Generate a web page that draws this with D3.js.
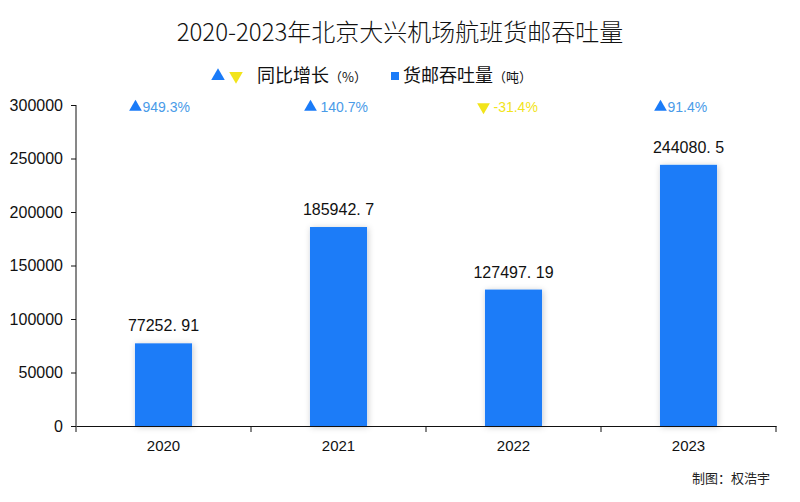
<!DOCTYPE html>
<html>
<head>
<meta charset="utf-8">
<script src="https://cdn.jsdelivr.net/npm/d3@7"></script>
<style>
  body { margin: 0; background: #fff; }
  text { font-family: "Liberation Sans", Arial, sans-serif; }
  .cjk { font-family: "Noto Sans CJK SC", sans-serif; }
</style>
</head>
<body>
<svg id="chart" width="800" height="502"></svg>
<script>
const years = ["2020", "2021", "2022", "2023"]
const cargo = [77252.91, 185942.7, 127497.19, 244080.5]
const growth = [949.3, 140.7, -31.4, 91.4]
const yTicks = [0, 50000, 100000, 150000, 200000, 250000, 300000]

const w = 800
const h = 502
const padLeft = 76
const padRight = 776
const padTop = 105
const padBottom = 426
const blue = "#1a7bf8"
const yellow = "#f2e41a"

const svg = d3.select("#chart")

const defs = svg.append("defs")
const f = defs.append("filter").attr("id", "shadow")
  .attr("x", "-30%").attr("y", "-10%").attr("width", "160%").attr("height", "120%")
f.append("feDropShadow")
  .attr("dx", 1).attr("dy", 1).attr("stdDeviation", 3)
  .attr("flood-color", "#000").attr("flood-opacity", 0.22)

svg.append("text")
  .attr("class", "cjk")
  .attr("x", w / 2).attr("y", 41)
  .attr("text-anchor", "middle")
  .attr("font-size", 24)
  .attr("font-weight", 300)
  .attr("fill", "#111")
  .text("2020-2023年北京大兴机场航班货邮吞吐量")

// legend
const legend = svg.append("g").attr("transform", "translate(0, 76)")
legend.append("path").attr("d", d3.symbol(d3.symbolTriangle, 80)())
  .attr("transform", "translate(218, 0)").attr("fill", blue)
legend.append("path").attr("d", d3.symbol(d3.symbolTriangle, 80)())
  .attr("transform", "translate(236, 0) rotate(180)").attr("fill", yellow)
const lt1 = legend.append("text").attr("class", "cjk").attr("x", 257).attr("y", 6)
  .attr("font-size", 18).attr("fill", "#111")
lt1.append("tspan").text("同比增长")
lt1.append("tspan").attr("font-size", 13).text("（%）")
legend.append("rect").attr("x", 391).attr("y", -4).attr("width", 8).attr("height", 8).attr("fill", blue)
const lt2 = legend.append("text").attr("class", "cjk").attr("x", 403).attr("y", 6)
  .attr("font-size", 18).attr("fill", "#111")
lt2.append("tspan").text("货邮吞吐量")
lt2.append("tspan").attr("font-size", 13).text("（吨）")

const x = d3.scaleBand().domain(years).range([padLeft, padRight]).paddingInner(0.674).paddingOuter(0.337)
const xTick = d3.scaleBand().domain(years).range([padLeft, padRight])
const y = d3.scaleLinear().domain([0, 300000]).range([padBottom, padTop])

svg.selectAll(".bar")
  .data(cargo)
  .enter()
  .append("rect")
  .attr("class", "bar")
  .attr("x", (d, i) => x(years[i]))
  .attr("y", d => y(d))
  .attr("width", x.bandwidth())
  .attr("height", d => y(0) - y(d))
  .attr("fill", blue)
  .attr("filter", "url(#shadow)")

svg.selectAll(".val")
  .data(cargo)
  .enter()
  .append("text")
  .attr("class", "val")
  .attr("x", (d, i) => xTick(years[i]) + xTick.bandwidth() / 2)
  .attr("y", d => y(d) - 12)
  .attr("text-anchor", "middle")
  .attr("font-size", 16)
  .attr("fill", "#111")
  .text(d => String(d).replace(".", ". "))

// growth labels
const g = svg.selectAll(".gr")
  .data(growth)
  .enter()
  .append("g")
  .attr("transform", (d, i) => `translate(${xTick(years[i]) + xTick.bandwidth() / 2}, 107)`)
g.append("path")
  .attr("d", d3.symbol(d3.symbolTriangle, 70)())
  .attr("transform", d => d < 0 ? "translate(-30, 0) rotate(180)" : "translate(-28, 0)")
  .attr("fill", d => d < 0 ? yellow : blue)
g.append("text")
  .attr("x", d => d < 0 ? -20 : (Math.abs(d) >= 100 && d < 200 ? -18 : -21))
  .attr("y", 5)
  .attr("font-size", 14)
  .attr("fill", d => d < 0 ? yellow : "#4a9be8")
  .text(d => d + "%")

const xAxis = d3.axisBottom(xTick).tickSize(0).tickPadding(14)
const xg = svg.append("g").attr("transform", `translate(0, ${padBottom})`).call(xAxis)
xg.select(".domain").attr("stroke", "#111")
xg.selectAll("text").attr("font-size", 15).attr("fill", "#111")
  .attr("font-family", "'Liberation Sans', Arial, sans-serif")
xg.selectAll(".sep")
  .data(d3.range(years.length + 1))
  .enter()
  .append("line")
  .attr("x1", i => padLeft + i * xTick.step()).attr("x2", i => padLeft + i * xTick.step())
  .attr("y1", 0).attr("y2", 6).attr("stroke", "#111")

const yAxis = d3.axisLeft(y).tickValues(yTicks).tickSize(5).tickPadding(8).tickFormat(d => d)
const yg = svg.append("g").attr("transform", `translate(${padLeft}, 0)`).call(yAxis)
yg.select(".domain").attr("stroke", "#111").attr("d", `M0,${padTop}V${padBottom}`)
yg.selectAll("line").attr("stroke", "#111")
yg.selectAll("text").attr("font-size", 16).attr("fill", "#111")
  .attr("font-family", "'Liberation Sans', Arial, sans-serif")

svg.append("text")
  .attr("class", "cjk")
  .attr("x", 770).attr("y", 483)
  .attr("text-anchor", "end")
  .attr("font-size", 13)
  .attr("fill", "#222")
  .text("制图：权浩宇")
</script>
</body>
</html>
